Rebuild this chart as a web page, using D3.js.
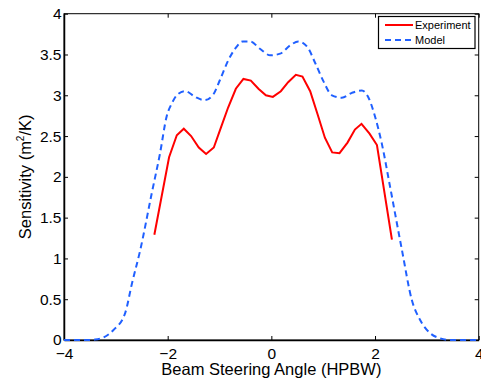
<!DOCTYPE html>
<html><head><meta charset="utf-8">
<script src="https://cdn.jsdelivr.net/npm/d3@7"></script>
<style>
html,body{margin:0;padding:0;background:#fff;}
svg{display:block;font-family:"Liberation Sans",Arial,Helvetica,sans-serif;}
</style></head><body>
<svg id="chart" width="481" height="379"></svg>
<script>
// Experiment (red solid)
const expX = [-2.257,-1.973,-1.824,-1.689,-1.548,-1.400,-1.259,-1.110,-0.975,-0.834,-0.685,-0.539,-0.396,-0.249,-0.106,0.029,0.183,0.324,0.473,0.600,0.749,0.890,1.033,1.174,1.315,1.469,1.612,1.739,1.894,2.037,2.326];
const expY = [1.29,2.24,2.51,2.59,2.50,2.36,2.28,2.36,2.60,2.85,3.08,3.20,3.18,3.08,3.00,2.98,3.05,3.16,3.25,3.23,3.05,2.77,2.48,2.30,2.29,2.42,2.58,2.65,2.53,2.39,1.23];
// Model (blue dashed)
const modX = [-4,-3.6,-3.4,-3.24,-3.05,-2.82,-2.69,-2.53,-2.307,-2.147,-2.02,-1.92,-1.81,-1.66,-1.47,-1.29,-1.12,-0.99,-0.83,-0.70,-0.55,-0.41,-0.22,-0.02,0.17,0.36,0.52,0.685,0.85,1.006,1.168,1.36,1.554,1.747,1.875,2.00,2.13,2.29,2.52,2.71,2.87,3.07,3.26,3.45,4];
const modY = [0,0,0.005,0.03,0.12,0.33,0.69,1.10,1.80,2.29,2.74,2.90,3.01,3.05,2.98,2.94,3.01,3.19,3.43,3.57,3.66,3.66,3.57,3.49,3.51,3.61,3.66,3.60,3.39,3.17,3.00,2.97,3.03,3.06,2.97,2.74,2.41,1.88,1.10,0.49,0.245,0.08,0.02,0,0];
const xTicks = [-4,-2,0,2,4];
const yTicks = [0,0.5,1,1.5,2,2.5,3,3.5,4];
const yTickLabels = ["0","0.5","1","1.5","2","2.5","3","3.5","4"];
const seriesNames = ["Experiment","Model"];

const svg = d3.select("#chart");
const L=64, R=478.7, T=13.7, B=340;
const x = d3.scaleLinear().domain([-4,4]).range([L,R]);
const y = d3.scaleLinear().domain([0,4]).range([B,T]);

svg.append("rect").attr("x",L).attr("y",T).attr("width",R-L).attr("height",B-T)
  .attr("fill","none").attr("stroke","#000").attr("stroke-width",1);

const fs = 15.5;
const ax = svg.append("g").attr("transform",`translate(0,${B})`)
  .call(d3.axisBottom(x).tickValues(xTicks).tickSizeInner(-4).tickSizeOuter(0).tickPadding(7.5)
    .tickFormat(d=> d<0 ? "\u2212"+Math.abs(d) : String(d)));
ax.select(".domain").attr("stroke","#000").attr("stroke-width",1.5);
ax.selectAll("text").attr("font-size",fs).attr("fill","#000").attr("font-family","Liberation Sans, Arial, sans-serif");
const axt = svg.append("g").attr("transform",`translate(0,${T})`)
  .call(d3.axisTop(x).tickValues(xTicks).tickSizeInner(-4).tickSizeOuter(0).tickFormat(""));
axt.select(".domain").remove();

const ay = svg.append("g").attr("transform",`translate(${L},0)`)
  .call(d3.axisLeft(y).tickValues(yTicks).tickSizeInner(-4).tickSizeOuter(0).tickPadding(2.5)
    .tickFormat((d,i)=>yTickLabels[i]));
ay.select(".domain").attr("stroke","#000").attr("stroke-width",1.5);
ay.selectAll("text").attr("font-size",fs).attr("fill","#000").attr("font-family","Liberation Sans, Arial, sans-serif");
const ayr = svg.append("g").attr("transform",`translate(${R},0)`)
  .call(d3.axisRight(y).tickValues(yTicks).tickSizeInner(-4).tickSizeOuter(0).tickFormat(""));
ayr.select(".domain").remove();

const pts = (xs,ys)=>xs.map((v,i)=>[v,ys[i]]);
svg.append("path")
  .attr("d", d3.line().x(d=>x(d[0])).y(d=>y(d[1])).curve(d3.curveMonotoneX)(pts(modX,modY)))
  .attr("fill","none").attr("stroke","#2060ff").attr("stroke-width",2).attr("stroke-dasharray","6,4");
svg.append("path")
  .attr("d", d3.line().x(d=>x(d[0])).y(d=>y(d[1]))(pts(expX,expY)))
  .attr("fill","none").attr("stroke","#ff0000").attr("stroke-width",2);

svg.append("text").attr("x",(L+R)/2).attr("y",375).attr("text-anchor","middle")
  .attr("font-size",16.5).text("Beam Steering Angle (HPBW)");
const yl = svg.append("text").attr("transform",`translate(31,${(T+B)/2}) rotate(-90)`)
  .attr("text-anchor","middle").attr("font-size",16.5);
yl.append("tspan").text("Sensitivity (m");
yl.append("tspan").attr("font-size",10).attr("dy",-7).text("2");
yl.append("tspan").attr("dy",7).text("/K)");

const lg = svg.append("g");
lg.append("rect").attr("x",378.5).attr("y",16.5).attr("width",96.5).attr("height",32)
  .attr("fill","#fff").attr("stroke","#000").attr("stroke-width",1.2);
const colors = ["#ff0000","#2060ff"], dashes=[null,"6,4"];
seriesNames.forEach((n,i)=>{
  const yy = 25 + i*15;
  lg.append("line").attr("x1",385).attr("x2",413).attr("y1",yy).attr("y2",yy)
    .attr("stroke",colors[i]).attr("stroke-width",2).attr("stroke-dasharray",dashes[i]);
  lg.append("text").attr("x",415).attr("y",yy+4).attr("font-size",11).text(n);
});
</script>
</body></html>
